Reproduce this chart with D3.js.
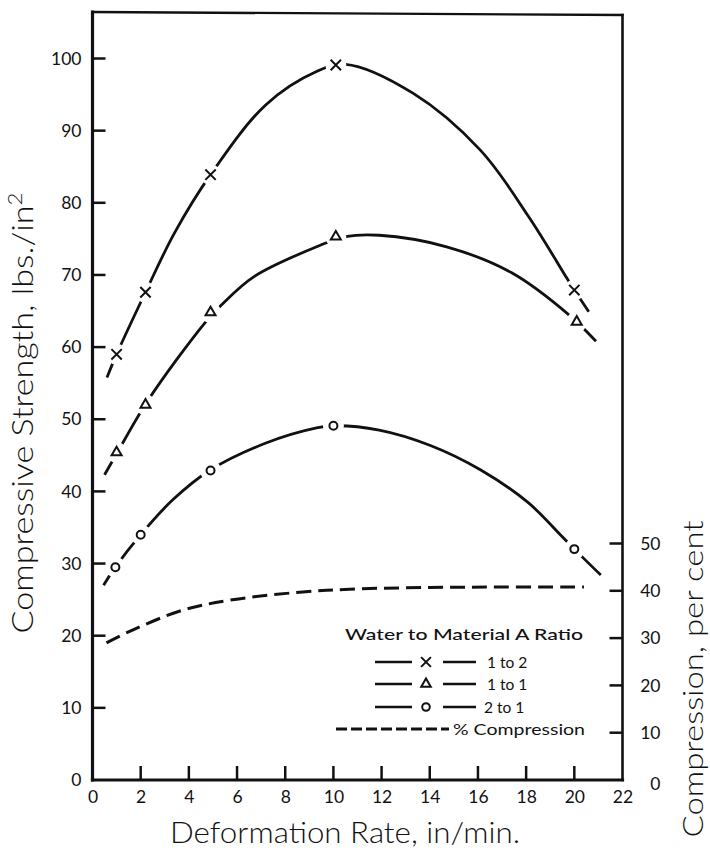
<!DOCTYPE html>
<html>
<head>
<meta charset="utf-8">
<script src="https://cdn.jsdelivr.net/npm/d3@7"></script>
<style>
  body { margin: 0; background: #fff; }
  svg { display: block; }
  text { font-family: Lato, "Open Sans", "Noto Sans", sans-serif; fill: #111; }
</style>
</head>
<body>
<svg id="chart" width="710" height="853"></svg>
<script>
'use strict';

// measured points (deformation rate in/min, compressive strength lbs/in2)
var rate12 = [1.0, 2.2, 4.9, 10.1, 20.0];
var strength12 = [59.0, 67.6, 83.9, 99.1, 67.9];
var rate11 = [1.0, 2.2, 4.9, 10.1, 20.1];
var strength11 = [45.4, 52.0, 64.8, 75.3, 63.5];
var rate21 = [0.95, 2.0, 4.9, 10.0, 20.0];
var strength21 = [29.5, 34.0, 42.9, 49.1, 32.0];

// hand drawn curves
var curve12X = [0.6, 1.0, 2.2, 3.4, 4.9, 7.2, 9.3, 10.5, 13.3, 16.1, 18.1, 19.7, 20.0, 20.6];
var curve12Y = [55.8, 59.0, 67.6, 75.8, 83.9, 93.6, 98.2, 99.2, 95.2, 87.3, 78.1, 69.5, 67.9, 64.9];
var curve11X = [0.5, 1.0, 2.3, 4.65, 5.34, 6.72, 9.3, 10.5, 11.9, 14.7, 17.4, 19.8, 20.9];
var curve11Y = [42.3, 45.2, 52.6, 63.3, 65.8, 69.8, 73.9, 75.3, 75.5, 73.9, 70.3, 64.4, 60.8];
var curve21X = [0.46, 0.95, 2.0, 3.32, 4.86, 7.2, 9.3, 10.05, 11.9, 14.0, 16.1, 18.1, 19.5, 20.0, 21.1];
var curve21Y = [27.0, 29.5, 34.0, 38.8, 42.9, 46.7, 48.8, 49.1, 48.5, 46.4, 43.0, 38.4, 33.7, 32.0, 28.4];

// % compression (right axis)
var compX = [0.58, 1.66, 3.74, 5.81, 8.6, 11, 14, 17, 20.4];
var compY = [29.0, 31.7, 35.9, 38.1, 39.7, 40.4, 40.7, 40.8, 40.8];

var ratioLabels = ['1 to 2', '1 to 1', '2 to 1'];
var xTicks = [0, 2, 4, 6, 8, 10, 12, 14, 16, 18, 20, 22];
var yTicks = [0, 10, 20, 30, 40, 50, 60, 70, 80, 90, 100];
var compTicks = [0, 10, 20, 30, 40, 50];

(function () {
  var svg = d3.select('#chart');
  var plotLeft = 92.5, plotRight = 622.5, plotTop = 12, plotBottom = 780;
  var ink = '#111';

  var x = d3.scaleLinear().domain([0, 22]).range([plotLeft, plotRight]);
  var y = d3.scaleLinear().domain([0, 100]).range([plotBottom, 58.5]);
  var yComp = d3.scaleLinear().domain([0, 50]).range([plotBottom, 543.5]);

  var symbols = [d3.symbolTimes, d3.symbolTriangle2, d3.symbolCircle];
  var symbolSizes = [72, 72, 50];

  var series = [
    { id: 's12', rate: rate12, val: strength12, cx: curve12X, cy: curve12Y },
    { id: 's11', rate: rate11, val: strength11, cx: curve11X, cy: curve11Y },
    { id: 's21', rate: rate21, val: strength21, cx: curve21X, cy: curve21Y }
  ];

  // masks that break each curve around its own markers
  var defs = svg.append('defs');
  series.forEach(function (s) {
    var m = defs.append('mask').attr('id', 'mask-' + s.id)
      .attr('maskUnits', 'userSpaceOnUse')
      .attr('x', 0).attr('y', 0).attr('width', 710).attr('height', 853);
    m.append('rect').attr('width', 710).attr('height', 853).attr('fill', '#fff');
    m.selectAll('circle')
      .data(s.rate)
      .enter()
      .append('circle')
      .attr('cx', function (d) { return x(d); })
      .attr('cy', function (d, i) { return y(s.val[i]); })
      .attr('r', 10.5)
      .attr('fill', '#000');
  });

  // frame
  var frame = svg.append('g').attr('stroke', ink).attr('stroke-linecap', 'square');
  frame.append('line').attr('x1', plotLeft).attr('y1', plotTop).attr('x2', plotLeft).attr('y2', plotBottom).attr('stroke-width', 3.2);
  frame.append('line').attr('x1', plotLeft).attr('y1', plotBottom).attr('x2', plotRight).attr('y2', plotBottom).attr('stroke-width', 3.2);
  frame.append('line').attr('x1', plotLeft).attr('y1', plotTop).attr('x2', plotRight).attr('y2', plotTop + 3).attr('stroke-width', 2.4);
  frame.append('line').attr('x1', plotRight).attr('y1', plotTop + 3).attr('x2', plotRight).attr('y2', plotBottom).attr('stroke-width', 2.6);

  // tick labels from d3 axes
  var xAxis = svg.append('g')
    .attr('transform', 'translate(0,' + plotBottom + ')')
    .call(d3.axisBottom(x).tickValues(xTicks).tickSize(0).tickPadding(11).tickFormat(d3.format('d')));
  var yAxis = svg.append('g')
    .attr('transform', 'translate(' + plotLeft + ',0)')
    .call(d3.axisLeft(y).tickValues(yTicks).tickSize(0).tickPadding(11).tickFormat(d3.format('d')));
  var rAxis = svg.append('g')
    .attr('transform', 'translate(' + plotRight + ',0)')
    .call(d3.axisRight(yComp).tickValues(compTicks).tickSize(0).tickPadding(38).tickFormat(d3.format('d')));

  [xAxis, yAxis, rAxis].forEach(function (a) {
    a.select('.domain').remove();
    a.selectAll('.tick line').remove();
    a.selectAll('text')
      .attr('fill', ink)
      .style('font-family', 'Lato, "Open Sans", "Noto Sans", sans-serif')
      .style('font-size', '17.5px');
  });
  rAxis.selectAll('text').attr('text-anchor', 'end');
  rAxis.selectAll('.tick').filter(function (d) { return d === 0; })
    .select('text').attr('dy', '0.55em');

  // tick marks, drawn inward
  var ticks = svg.append('g').attr('stroke', ink).attr('stroke-width', 2.5);
  ticks.selectAll('.xt')
    .data(xTicks.slice(1, -1))
    .enter().append('line').attr('class', 'xt')
    .attr('x1', function (d) { return x(d); }).attr('x2', function (d) { return x(d); })
    .attr('y1', plotBottom).attr('y2', plotBottom - 14);
  ticks.selectAll('.yt')
    .data(yTicks.slice(1))
    .enter().append('line').attr('class', 'yt')
    .attr('x1', plotLeft).attr('x2', plotLeft + 13)
    .attr('y1', function (d) { return y(d); }).attr('y2', function (d) { return y(d); });
  ticks.selectAll('.rt')
    .data(compTicks.slice(1))
    .enter().append('line').attr('class', 'rt')
    .attr('x1', plotRight).attr('x2', plotRight - 13)
    .attr('y1', function (d) { return yComp(d); }).attr('y2', function (d) { return yComp(d); });

  // strength curves
  var line = d3.line().curve(d3.curveCatmullRom.alpha(0.5));
  series.forEach(function (s) {
    var pts = s.cx.map(function (v, i) { return [x(v), y(s.cy[i])]; });
    svg.append('path')
      .attr('d', line(pts))
      .attr('fill', 'none')
      .attr('stroke', ink)
      .attr('stroke-width', 2.8)
      .attr('mask', 'url(#mask-' + s.id + ')');
  });

  // compression curve
  var compPts = compX.map(function (v, i) { return [x(v), yComp(compY[i])]; });
  svg.append('path')
    .attr('d', line(compPts))
    .attr('fill', 'none')
    .attr('stroke', ink)
    .attr('stroke-width', 3)
    .attr('stroke-dasharray', '15,7');

  // markers
  series.forEach(function (s, k) {
    svg.append('g').selectAll('path')
      .data(s.rate)
      .enter()
      .append('path')
      .attr('transform', function (d, i) { return 'translate(' + x(d) + ',' + y(s.val[i]) + ')'; })
      .attr('d', d3.symbol().type(symbols[k]).size(symbolSizes[k]))
      .attr('fill', 'none')
      .attr('stroke', ink)
      .attr('stroke-width', 2);
  });

  // legend
  var legend = svg.append('g');
  legend.append('text')
    .attr('x', 345).attr('y', 640)
    .attr('textLength', 238).attr('lengthAdjust', 'spacingAndGlyphs')
    .style('font-size', '15px').style('font-weight', 500)
    .text('Water to Material A Ratio');

  var rowY = [662, 684, 707];
  var labelX = [487, 487, 484];
  ratioLabels.forEach(function (lab, k) {
    var g = legend.append('g').attr('transform', 'translate(0,' + rowY[k] + ')');
    g.append('line').attr('x1', 375).attr('x2', 412).attr('stroke', ink).attr('stroke-width', 2.6);
    g.append('line').attr('x1', 443).attr('x2', 476).attr('stroke', ink).attr('stroke-width', 2.6);
    g.append('path')
      .attr('transform', 'translate(426,0)')
      .attr('d', d3.symbol().type(symbols[k]).size(symbolSizes[k] * 0.9))
      .attr('fill', 'none').attr('stroke', ink).attr('stroke-width', 2);
    g.append('text').attr('x', labelX[k]).attr('y', 5.5)
      .style('font-size', '15.5px')
      .text(lab);
  });
  legend.append('line')
    .attr('x1', 336).attr('x2', 449).attr('y1', 729).attr('y2', 729)
    .attr('stroke', ink).attr('stroke-width', 3.2)
    .attr('stroke-dasharray', '11,4');
  legend.append('text')
    .attr('x', 453).attr('y', 734.5)
    .attr('textLength', 132).attr('lengthAdjust', 'spacingAndGlyphs')
    .style('font-size', '15.5px')
    .text('% Compression');

  // axis titles
  svg.append('text')
    .attr('x', 345).attr('y', 843)
    .attr('text-anchor', 'middle')
    .attr('textLength', 350).attr('lengthAdjust', 'spacingAndGlyphs')
    .style('font-size', '29px').style('font-weight', 300)
    .text('Deformation Rate,  in/min.');

  var yTitle = svg.append('text')
    .attr('transform', 'translate(33,413) rotate(-90)')
    .attr('text-anchor', 'middle')
    .attr('textLength', 441).attr('lengthAdjust', 'spacingAndGlyphs')
    .style('font-size', '29px').style('font-weight', 300);
  yTitle.append('tspan').text('Compressive  Strength,  lbs./in');
  yTitle.append('tspan').attr('dy', -11).style('font-size', '19px').text('2');

  svg.append('text')
    .attr('transform', 'translate(703,679) rotate(-90)')
    .attr('text-anchor', 'middle')
    .attr('textLength', 317).attr('lengthAdjust', 'spacingAndGlyphs')
    .style('font-size', '28px').style('font-weight', 300)
    .text('Compression,  per cent');
})();
</script>
</body>
</html>
